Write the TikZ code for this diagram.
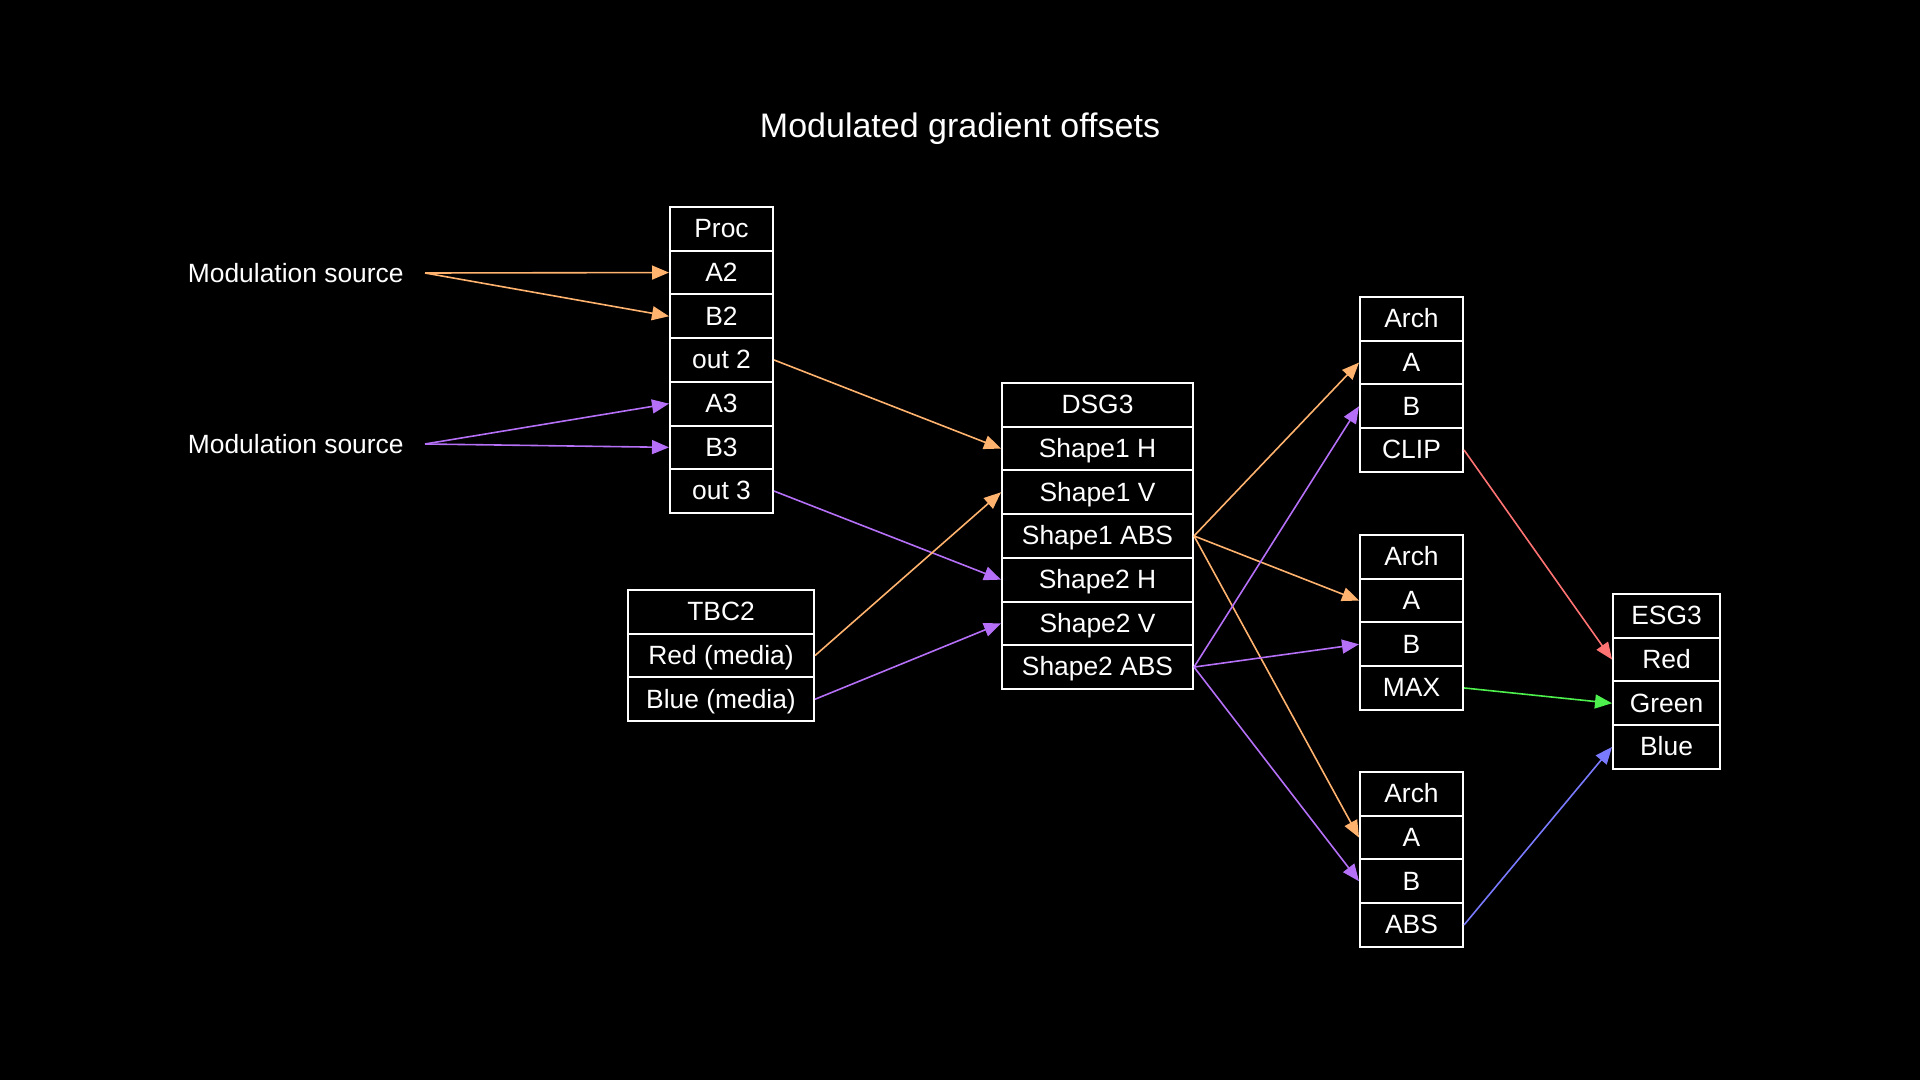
\documentclass[tikz,border=0pt]{standalone}
\usepackage{fontspec}
\setmainfont{Liberation Sans}
\usepackage{xcolor}
\usepackage{tikz}
\usetikzlibrary{arrows.meta}
\definecolor{tangerine}{HTML}{FFB36E}
\definecolor{lilac}{HTML}{B570F7}
\definecolor{salmon}{HTML}{FF7373}
\definecolor{lime}{HTML}{4DF04D}
\definecolor{periwinkle}{HTML}{7A7AFF}
\tikzset{
  field/.style={
    draw=white,
    line width=1pt,
    text=white,
    minimum height=21.85pt,
    inner sep=0pt,
    font=\fontsize{13.2}{15}\selectfont,
    text height=10.5pt,
    text depth=1.7pt
  },
  source/.style={
    text=white,
    inner xsep=10.5pt,
    font=\fontsize{13.2}{15}\selectfont
  },
  mod arrow/.style={
    -{Triangle[length=8.5pt,width=7pt]},
    line width=0.8pt
  }
}

\begin{document}
\begin{tikzpicture}[x=0.5pt, y=-0.5pt]
  \fill[black] (0,0) rectangle (1920,1080);
  \node[text=white, font=\fontsize{17}{20}\selectfont, anchor=base] (title) at (960,138) {Modulated gradient offsets};

  % sources
  \node[source, anchor=east] (src2) at (425,273) {Modulation source};
  \node[source, anchor=east] (src3) at (425,444) {Modulation source};

  % records
  \foreach \lbl [count=\i] in {Proc, A2, B2, out 2, A3, B3, out 3}
    \node[field, minimum width=51.5pt] (proc\i) at (721.5,{207+(\i-0.5)*43.7}) {\lbl};
  \foreach \lbl [count=\i] in {TBC2, Red (media), Blue (media)}
    \node[field, minimum width=93pt] (tbc\i) at (721,{590+(\i-0.5)*43.7}) {\lbl};
  \foreach \lbl [count=\i] in {DSG3, Shape1 H, Shape1 V, Shape1 ABS, Shape2 H, Shape2 V, Shape2 ABS}
    \node[field, minimum width=95.5pt] (dsg\i) at (1097.5,{383+(\i-0.5)*43.7}) {\lbl};
  \foreach \lbl [count=\i] in {Arch, A, B, CLIP}
    \node[field, minimum width=51.5pt] (clip\i) at (1411.5,{297+(\i-0.5)*43.7}) {\lbl};
  \foreach \lbl [count=\i] in {Arch, A, B, MAX}
    \node[field, minimum width=51.5pt] (max\i) at (1411.5,{535+(\i-0.5)*43.7}) {\lbl};
  \foreach \lbl [count=\i] in {Arch, A, B, ABS}
    \node[field, minimum width=51.5pt] (abs\i) at (1411.5,{772+(\i-0.5)*43.7}) {\lbl};
  \foreach \lbl [count=\i] in {ESG3, Red, Green, Blue}
    \node[field, minimum width=53.5pt] (esg\i) at (1666.5,{594+(\i-0.5)*43.7}) {\lbl};

  % connections
  \draw[mod arrow, tangerine] (src2.east) -- (proc2.west);
  \draw[mod arrow, tangerine] (src2.east) -- (proc3.west);
  \draw[mod arrow, lilac] (src3.east) -- (proc5.west);
  \draw[mod arrow, lilac] (src3.east) -- (proc6.west);
  \draw[mod arrow, tangerine] (proc4.east) -- (dsg2.west);
  \draw[mod arrow, lilac] (proc7.east) -- (dsg5.west);
  \draw[mod arrow, tangerine] (tbc2.east) -- (dsg3.west);
  \draw[mod arrow, lilac] (tbc3.east) -- (dsg6.west);
  \draw[mod arrow, tangerine] (dsg4.east) -- (clip2.west);
  \draw[mod arrow, tangerine] (dsg4.east) -- (max2.west);
  \draw[mod arrow, tangerine] (dsg4.east) -- (abs2.west);
  \draw[mod arrow, lilac] (dsg7.east) -- (clip3.west);
  \draw[mod arrow, lilac] (dsg7.east) -- (max3.west);
  \draw[mod arrow, lilac] (dsg7.east) -- (abs3.west);
  \draw[mod arrow, salmon] (clip4.east) -- (esg2.west);
  \draw[mod arrow, lime] (max4.east) -- (esg3.west);
  \draw[mod arrow, periwinkle] (abs4.east) -- (esg4.west);
\end{tikzpicture}
\end{document}
